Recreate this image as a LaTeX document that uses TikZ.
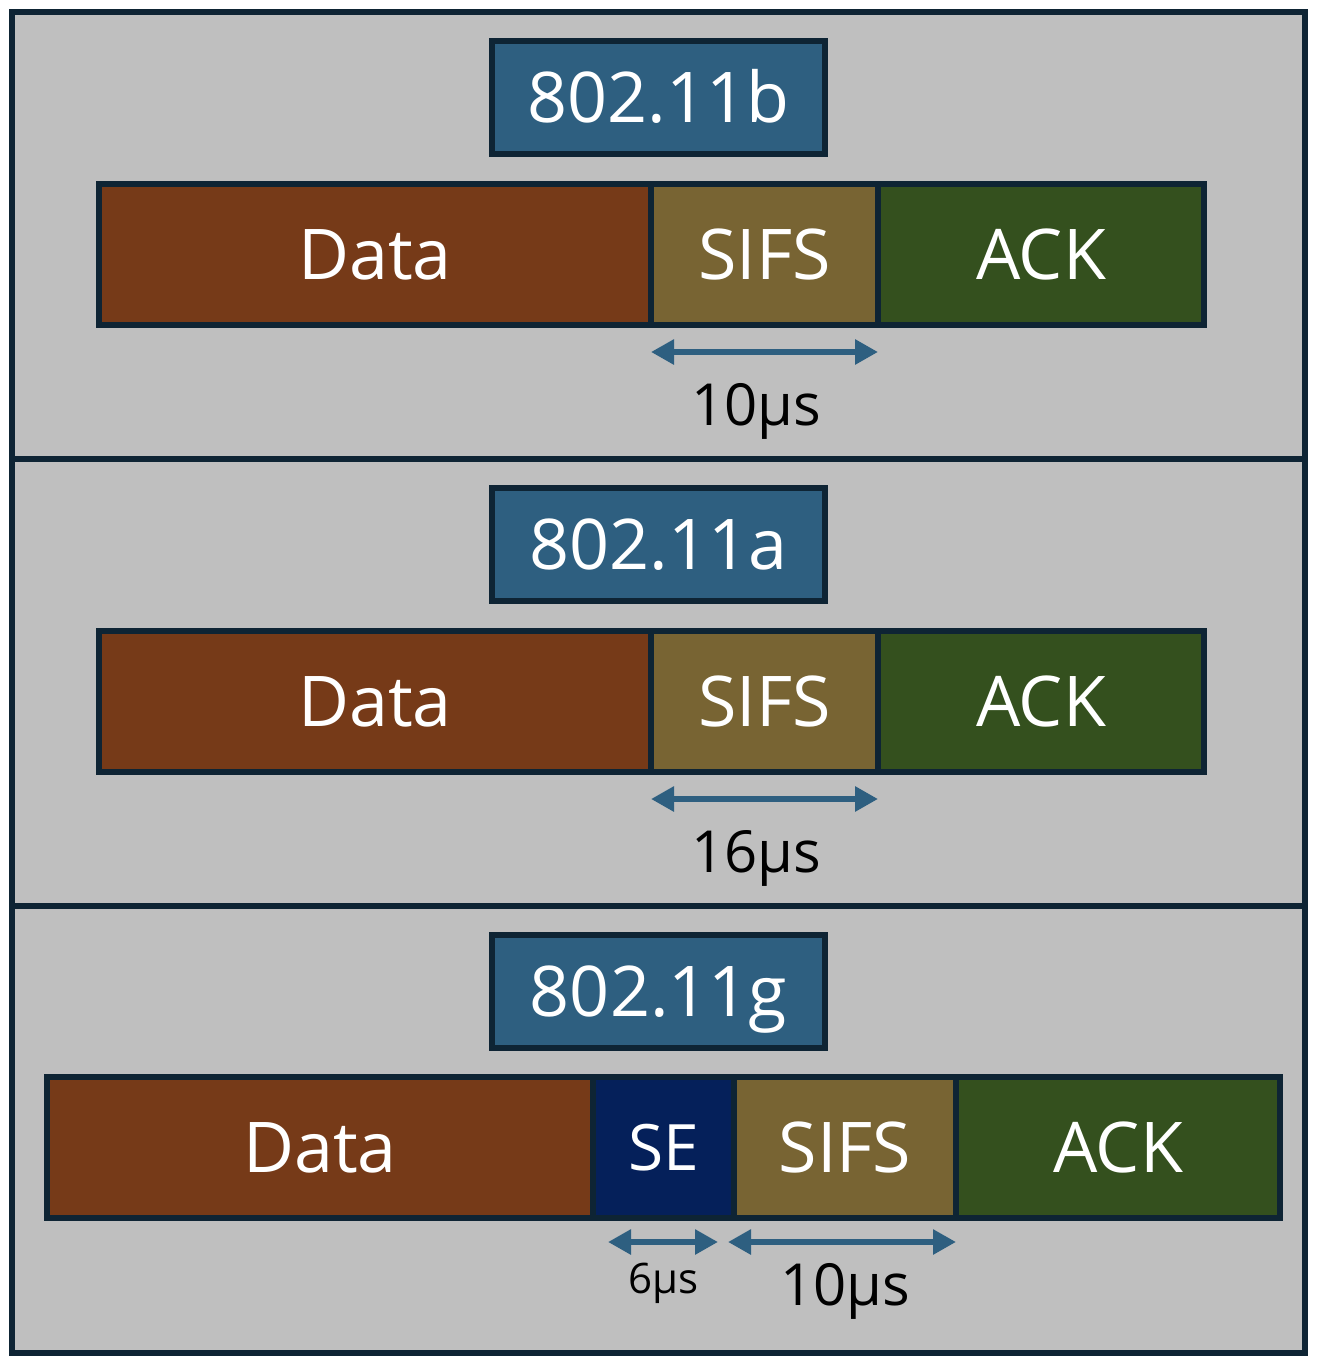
\documentclass[tikz,border=0pt]{standalone}
\usepackage{fontspec}
\setmainfont{Open Sans}
\usepackage{xcolor}
\usetikzlibrary{positioning,arrows.meta}

\definecolor{panelgray}{HTML}{BFBFBF}
\definecolor{edge}{HTML}{0E2434}
\definecolor{titleblue}{HTML}{2E5F80}
\definecolor{datab}{HTML}{763A18}
\definecolor{sifsb}{HTML}{786433}
\definecolor{ackb}{HTML}{34501E}
\definecolor{seb}{HTML}{05205A}

\begin{document}
\begin{tikzpicture}[x=0.5pt,y=-0.5pt]
        \tikzset{panel/.style={draw=edge,fill=panelgray,line width=3pt},
            seg/.style={draw=edge,line width=3pt,outer sep=0pt,inner sep=0pt,
                text=white,minimum height=70.5pt,font=\fontsize{35pt}{42pt}\selectfont,
                text height=25pt,text depth=0pt},
            title/.style={seg,fill=titleblue,minimum width=166.5pt,minimum height=56.5pt},
            span/.style={draw=titleblue,line width=3pt,{Triangle[length=11.5pt,width=12pt]}-{Triangle[length=11.5pt,width=12pt]}},
            lbl/.style={anchor=base,inner sep=0pt,font=\fontsize{29pt}{35pt}\selectfont},
            small/.style={lbl,font=\fontsize{21pt}{25pt}\selectfont}}
        \useasboundingbox (0,0) rectangle (1318,1370);
        \draw[panel] (12,12) rectangle (1305,459);
        \draw[panel] (12,459) rectangle (1305,906);
        \draw[panel] (12,906) rectangle (1305,1353);

        % 802.11b
        \node[title] (b) at (658.5,97.5) {802.11b};
        \node[seg,fill=datab,minimum width=276pt,anchor=north west] (datab) at (99,184) {Data};
        \node[seg,fill=sifsb,minimum width=113.5pt,right=0pt of datab] (sifsb) {SIFS};
        \node[seg,fill=ackb,minimum width=163pt,right=0pt of sifsb] (ackb) {ACK};
        \draw[span] ([yshift=-13.5pt]sifsb.south west) -- ([yshift=-13.5pt]sifsb.south east);
        \node[lbl] (tb) at (756,425) {10µs};

        % 802.11a
        \node[title] (a) at (658.5,544.5) {802.11a};
        \node[seg,fill=datab,minimum width=276pt,anchor=north west] (dataa) at (99,631) {Data};
        \node[seg,fill=sifsb,minimum width=113.5pt,right=0pt of dataa] (sifsa) {SIFS};
        \node[seg,fill=ackb,minimum width=163pt,right=0pt of sifsa] (acka) {ACK};
        \draw[span] ([yshift=-13.5pt]sifsa.south west) -- ([yshift=-13.5pt]sifsa.south east);
        \node[lbl] (ta) at (756,872) {16µs};

        % 802.11g
        \node[title] (g) at (658.5,991.5) {802.11g};
        \node[seg,fill=datab,minimum width=273pt,anchor=north west] (datag) at (47,1077) {Data};
        \node[seg,fill=seb,minimum width=70.5pt,right=0pt of datag,font=\fontsize{32pt}{38pt}\selectfont,text height=23pt] (seg) {SE};
        \node[seg,fill=sifsb,minimum width=111pt,right=0pt of seg] (sifsg) {SIFS};
        \node[seg,fill=ackb,minimum width=162pt,right=0pt of sifsg] (ackg) {ACK};
        \draw[span] ([xshift=7.5pt,yshift=-12pt]seg.south west) -- ([xshift=-8pt,yshift=-12pt]seg.south east);
        \draw[span] ([xshift=-3pt,yshift=-12pt]sifsg.south west) -- ([yshift=-12pt]sifsg.south east);
        \node[small] (tse) at (663.5,1293) {6µs};
        \node[lbl] (tg) at (845,1305) {10µs};
    \end{tikzpicture}
\end{document}
